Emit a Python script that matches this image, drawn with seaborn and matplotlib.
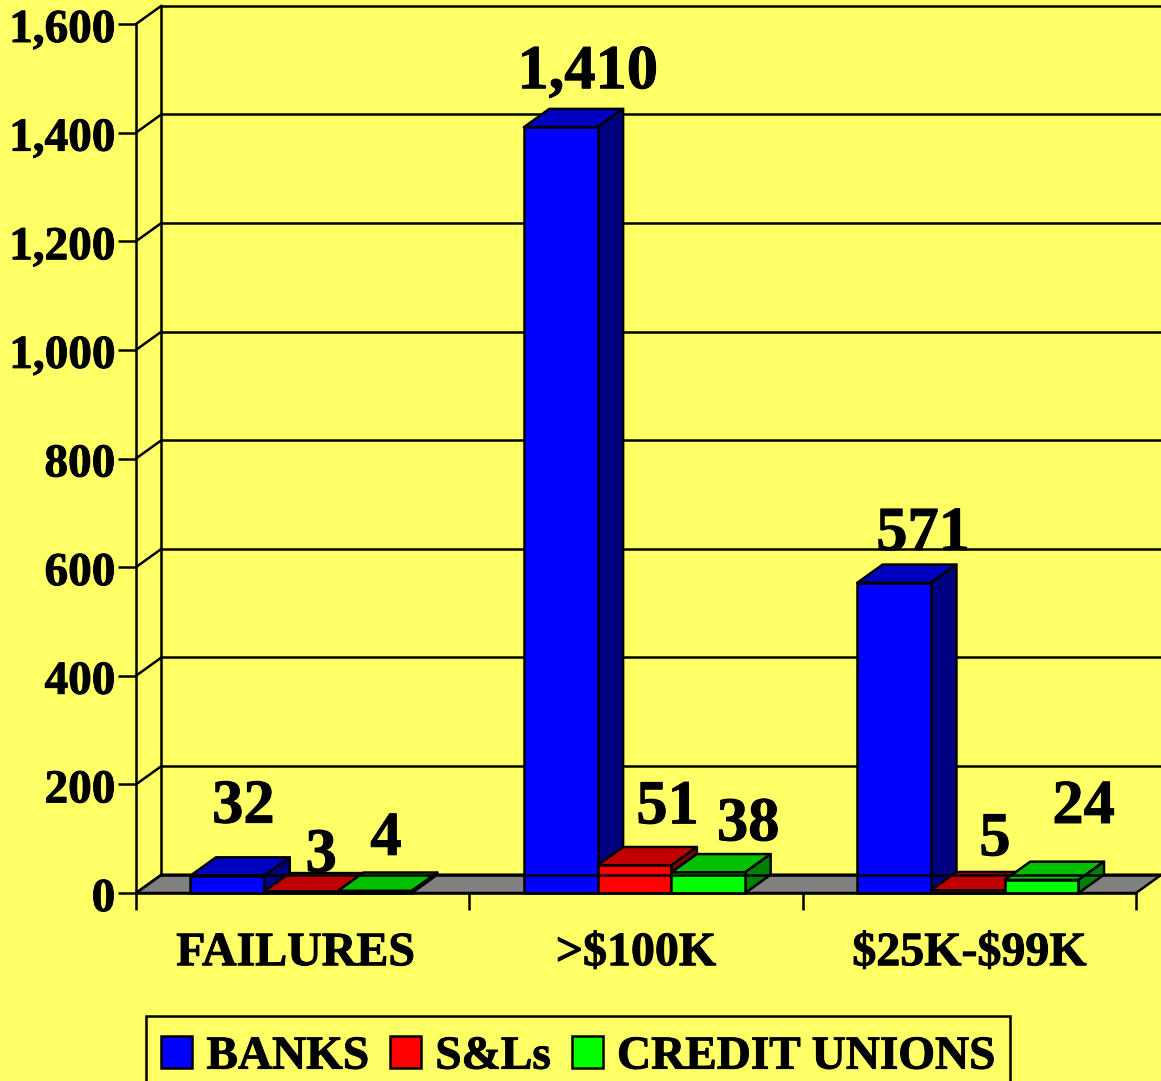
import matplotlib
matplotlib.use("Agg")
import matplotlib.pyplot as plt
from matplotlib.patches import Polygon, Patch, Rectangle
from matplotlib.transforms import ScaledTranslation
import matplotlib.patheffects as pe
import pandas as pd
import seaborn as sns

categories = ["FAILURES", ">$100K", "$25K-$99K"]
series = ["BANKS", "S&Ls", "CREDIT UNIONS"]
banks = [32, 1410, 571]
sls = [3, 51, 5]
credit_unions = [4, 38, 24]
y_ticks = [0, 200, 400, 600, 800, 1000, 1200, 1400, 1600]

# label offsets from bar top-centre, in pixels (right, up), per series per category
label_off = {
    "BANKS": [(16, 53), (27, 39), (29, 33)],
    "S&Ls": [(20, 20), (33, 42), (27, 35)],
    "CREDIT UNIONS": [(11, 36), (40, 32), (42, 57)],
}

BG = "#FFFF66"
front = {"BANKS": "#0000FF", "S&Ls": "#FF0000", "CREDIT UNIONS": "#00FF00"}
top = {"BANKS": "#0000C0", "S&Ls": "#C00000", "CREDIT UNIONS": "#00C000"}
side = {"BANKS": "#000080", "S&Ls": "#800000", "CREDIT UNIONS": "#008000"}
LW = 1.8
BOLDER = [pe.withStroke(linewidth=0.7, foreground="black")]

sns.set_theme(style="white")
plt.rcParams["font.family"] = ["Liberation Serif", "DejaVu Serif"]
plt.rcParams["font.weight"] = "bold"

W, H = 1161, 1081
fig = plt.figure(figsize=(W / 100, H / 100), dpi=100, facecolor=BG)
ax = fig.add_axes([136 / W, 1 - 893 / H, 1000 / W, 869 / H])
ax.set_facecolor("none")

df = pd.DataFrame({
    "category": categories * 3,
    "series": sum([[s] * 3 for s in series], []),
    "value": banks + sls + credit_unions,
})
sns.barplot(data=df, x="category", y="value", hue="series", order=categories,
            hue_order=series, palette=front, width=0.664, gap=0, saturation=1,
            edgecolor="black", linewidth=LW, legend=False, ax=ax, zorder=10)
ax.set_xlim(-0.5, 2.5)
ax.set_ylim(0, 1600)
ax.set_xlabel("")
ax.set_ylabel("")

bars = sorted([p for p in ax.patches if isinstance(p, Rectangle)], key=lambda p: p.get_x())

px_x = 3 / 1000          # data units per horizontal pixel
px_y = 1600 / 869        # data units per vertical pixel
DX, DY = 25.5 * px_x, 18.3 * px_y
x0, x1 = -0.5, 2.5

# walls and floor
ax.add_patch(Polygon([(x0, 0), (x0 + DX, DY), (x1 + DX, DY), (x1, 0)], closed=True,
                     fc="#808080", ec="black", lw=LW, clip_on=False, zorder=2))
for t in y_ticks:
    ax.plot([x0, x0 + DX], [t, t + DY], color="black", lw=LW, clip_on=False, zorder=3,
            solid_capstyle="round")
    if t > 0:
        ax.plot([x0 + DX, x1 + DX], [t + DY, t + DY], color="black", lw=LW,
                clip_on=False, zorder=3)
ax.plot([x0 + DX, x0 + DX], [DY, 1600 + DY], color="black", lw=LW, clip_on=False, zorder=3)

# 3D faces derived from the bars drawn by seaborn
n = 3
for i, p in enumerate(bars):
    p.set_x(p.get_x() - 1.5 * px_x)
    xa, w, h = p.get_x(), p.get_width(), p.get_height()
    s = series[i % n]
    cat = i // n
    z = 10 + i * 0.1
    p.set_zorder(z + 0.05)
    p.set_clip_on(False)
    ax.add_patch(Polygon([(xa, h), (xa + DX, h + DY), (xa + w + DX, h + DY), (xa + w, h)],
                         closed=True, fc=top[s], ec="black", lw=LW, clip_on=False,
                         joinstyle="round", zorder=z))
    ax.add_patch(Polygon([(xa + w, 0), (xa + w + DX, DY), (xa + w + DX, h + DY), (xa + w, h)],
                         closed=True, fc=side[s], ec="black", lw=LW, clip_on=False,
                         joinstyle="round", zorder=z))
    ox, oy = label_off[s][cat]
    ax.annotate(f"{int(h):,}", (xa + w / 2, h), xytext=(ox * 0.72, oy * 0.72),
                textcoords="offset points", ha="center", va="baseline",
                fontsize=45, fontweight="bold", color="black", zorder=30,
                annotation_clip=False, path_effects=BOLDER)

# floor back line runs over the bars
ax.plot([x0 + DX, x1 + DX], [DY, DY], color="black", lw=LW, clip_on=False, zorder=20)

# axes
sns.despine(ax=ax, top=True, right=True)
for sp in ("left", "bottom"):
    ax.spines[sp].set_linewidth(LW)
    ax.spines[sp].set_color("black")
    ax.spines[sp].set_zorder(25)
ax.set_yticks(y_ticks)
ax.set_yticklabels([f"{t:,}" for t in y_ticks], fontsize=34, fontweight="bold", color="black")
ax.tick_params(axis="y", length=13, width=LW, color="black", pad=2, left=True)
for lab in ax.get_yticklabels():
    lab.set_transform(lab.get_transform() + ScaledTranslation(0, -2 / 100, fig.dpi_scale_trans))
    lab.set_path_effects(BOLDER)

ax.set_xticks([0, 1, 2])
ax.set_xticklabels(categories, fontsize=34.5, fontweight="bold", color="black", parse_math=False)
ax.set_xticks([-0.5, 0.5, 1.5, 2.5], minor=True)
ax.tick_params(axis="x", which="major", length=0, pad=27.5)
ax.tick_params(axis="x", which="minor", length=12, width=LW, color="black", bottom=True)
first = ax.get_xticklabels()[0]
first.set_transform(first.get_transform() + ScaledTranslation(-7 / 100, 0, fig.dpi_scale_trans))
for lab in ax.get_xticklabels():
    lab.set_path_effects(BOLDER)

# legend
handles = [Patch(fc=front[s], ec="black", lw=LW, label=s) for s in series]
leg = ax.legend(handles=handles, ncol=3, loc="upper left",
                bbox_to_anchor=(146 / W, 1 - 1021 / H), bbox_transform=fig.transFigure,
                borderaxespad=0, frameon=False, labelcolor="black",
                prop={"size": 34, "weight": "bold", "family": "Liberation Serif"},
                handlelength=0.66, handleheight=0.66, handletextpad=0.3, columnspacing=0.44,
                borderpad=0.32)
leg.set_zorder(40)
for t in leg.get_texts():
    t.set_path_effects(BOLDER)
fig.add_artist(Rectangle((146 / W, 1 - 1100 / H), (1010 - 146) / W, (1100 - 1016) / H,
                         transform=fig.transFigure, fc="none", ec="black", lw=LW))

fig.savefig("out.png", dpi=100, facecolor=BG)
